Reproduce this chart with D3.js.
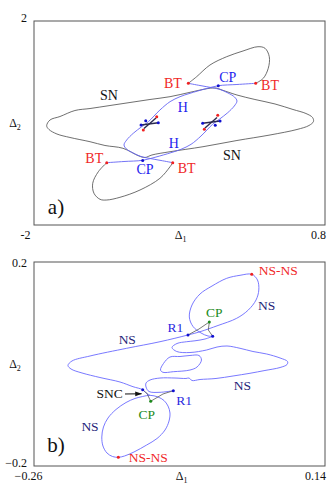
<!DOCTYPE html>
<html><head><meta charset="utf-8">
<script src="https://cdn.jsdelivr.net/npm/d3@7"></script>
<style>
body{margin:0;background:#fff}
svg{display:block}
text{font-family:"Liberation Serif","Times New Roman",serif}
</style>
</head><body>
<svg id="c" width="336" height="491"></svg>
<script>
// ---------- panel a) data ----------
const topXTicks = [-2, 0.8], topXTickLabels = ["-2", "0.8"];
const topYTicks = [2], topYTickLabels = ["2"];
const topSN = [[-1.878,-0.053],[-1.846,0.059],[-1.750,0.127],[-1.606,0.245],[-1.461,0.284],[-1.269,0.343],[-1.076,0.402],[-0.884,0.461],[-0.691,0.516],[-0.499,0.602],[-0.326,0.676],[-0.249,0.686],[-0.191,0.647],[-0.047,0.549],[0.126,0.461],[0.319,0.373],[0.492,0.265],[0.617,0.186],[0.680,0.108],[0.689,0.029],[0.646,-0.049],[0.531,-0.127],[0.271,-0.235],[-0.047,-0.343],[-0.374,-0.465],[-0.691,-0.563],[-0.865,-0.627],[-0.932,-0.676],[-0.990,-0.647],[-1.144,-0.496],[-1.317,-0.441],[-1.461,-0.367],[-1.654,-0.284],[-1.779,-0.216],[-1.856,-0.127]];
const topLobeUpper = [[-0.515,0.778],[-0.435,0.908],[-0.307,1.137],[-0.146,1.300],[0.011,1.412],[0.155,1.496],[0.223,1.465],[0.264,1.300],[0.254,1.073],[0.206,0.876],[0.133,0.778]];
const topLobeLower = [[-1.300,-0.778],[-1.381,-0.955],[-1.435,-1.182],[-1.423,-1.378],[-1.365,-1.496],[-1.300,-1.510],[-1.173,-1.457],[-0.980,-1.314],[-0.788,-1.084],[-0.691,-0.857],[-0.665,-0.778]];
const topH1 = [[0.133,0.778],[-0.047,0.755],[-0.227,0.731],[-0.355,0.667],[-0.499,0.582],[-0.595,0.516],[-0.691,0.418],[-0.788,0.255],[-0.900,0.025],[-0.964,-0.073],[-1.045,-0.202],[-1.108,-0.333],[-1.134,-0.431],[-1.110,-0.510],[-1.047,-0.588],[-0.970,-0.657],[-0.893,-0.692],[-0.778,-0.735],[-0.665,-0.778]];
const topH2 = [[-1.300,-0.778],[-1.134,-0.755],[-0.954,-0.731],[-0.826,-0.667],[-0.682,-0.582],[-0.586,-0.516],[-0.489,-0.418],[-0.393,-0.255],[-0.281,-0.025],[-0.217,0.073],[-0.136,0.202],[-0.073,0.333],[-0.047,0.431],[-0.071,0.510],[-0.133,0.588],[-0.210,0.657],[-0.287,0.692],[-0.403,0.735],[-0.515,0.778]];
const topCrossLines = [
  [[-0.970,-0.039],[-0.804,0.006]], [[-0.942,-0.108],[-0.826,0.098]],
  [[-0.210,0.039],[-0.377,-0.006]], [[-0.239,0.108],[-0.355,-0.098]]
];
const topBlueDots = [[-0.227,0.731],[-0.954,-0.735],[-0.970,-0.039],[-0.925,0.045],[-0.804,0.006],[-0.210,0.039],[-0.256,-0.045],[-0.377,-0.006]];
const topRedDots = [[-0.515,0.778],[0.133,0.778],[-1.300,-0.778],[-0.665,-0.778],[-0.819,0.124],[-0.948,-0.137],[-0.361,-0.124],[-0.232,0.151]];
const topLabels = [["SN",-1.278,0.549,"sn"],["SN",-0.095,-0.627,"sn"],["H",-0.569,0.300,"h"],["H",-0.655,-0.405,"h"],["CP",-0.136,0.890,"h"],["CP",-0.932,-0.908,"h"],["BT",-0.663,0.784,"bt"],["BT",0.271,0.745,"bt"],["BT",-1.420,-0.686,"bt"],["BT",-0.531,-0.888,"bt"]];

// ---------- panel b) data ----------
const botXTicks = [-0.26, 0.14], botXTickLabels = ["\u22120.26", "0.14"];
const botYTicks = [0.2, -0.2], botYTickLabels = ["0.2", "\u22120.2"];
const nsUpper = [[-0.1005,-0.0614],[-0.1067,-0.0559],[-0.1106,-0.0504],[-0.1239,-0.0445],[-0.1418,-0.0353],[-0.1693,-0.0265],[-0.1940,-0.0176],[-0.2091,-0.0098],[-0.2133,-0.0029],[-0.2078,0.0059],[-0.1830,0.0157],[-0.1326,0.0308],[-0.0868,0.0437],[-0.0483,0.0569],[-0.0318,0.0633],[-0.0071,0.0755],[0.0186,0.0896],[0.0346,0.1059],[0.0452,0.1255],[0.0490,0.1451],[0.0472,0.1647],[0.0393,0.1759],[0.0232,0.1739],[0.0049,0.1680],[-0.0153,0.1529],[-0.0318,0.1373],[-0.0428,0.1157],[-0.0465,0.0922],[-0.0414,0.0735],[-0.0304,0.0608],[-0.0208,0.0549],[-0.0144,0.0543]];
const nsWiggle = [[-0.0144,0.0543],[-0.0249,0.0490],[-0.0387,0.0455],[-0.0501,0.0437],[-0.0634,0.0402],[-0.0703,0.0324],[-0.0638,0.0245],[-0.0456,0.0225],[-0.0226,0.0275],[-0.0084,0.0333],[0.0053,0.0353],[0.0232,0.0308],[0.0410,0.0245],[0.0599,0.0196],[0.0782,0.0118],[0.0885,0.0049],[0.0878,-0.0010],[0.0782,-0.0069],[0.0575,-0.0127],[0.0369,-0.0182],[0.0136,-0.0235],[-0.0098,-0.0284],[-0.0318,-0.0304],[-0.0428,-0.0324],[-0.0469,-0.0275],[-0.0511,-0.0284],[-0.0662,-0.0275],[-0.0868,-0.0275],[-0.1005,-0.0314],[-0.1060,-0.0373],[-0.1060,-0.0451],[-0.1019,-0.0539],[-0.0868,-0.0555],[-0.0685,-0.0524]];
const nsDiamond = [[-0.0731,0.0137],[-0.0820,0.0010],[-0.0861,-0.0118],[-0.0827,-0.0163],[-0.0685,-0.0151],[-0.0456,-0.0118],[-0.0359,-0.0059],[-0.0298,0.0078],[-0.0332,0.0167],[-0.0456,0.0167],[-0.0593,0.0147]];
const nsLower = [[-0.1005,-0.0614],[-0.0896,-0.0647],[-0.0813,-0.0716],[-0.0758,-0.0824],[-0.0731,-0.0961],[-0.0744,-0.1118],[-0.0799,-0.1294],[-0.0909,-0.1461],[-0.1051,-0.1588],[-0.1225,-0.1725],[-0.1356,-0.1804],[-0.1441,-0.1829],[-0.1521,-0.1814],[-0.1597,-0.1745],[-0.1652,-0.1608],[-0.1668,-0.1431],[-0.1645,-0.1235],[-0.1583,-0.1059],[-0.1473,-0.0892],[-0.1335,-0.0755],[-0.1212,-0.0676],[-0.1106,-0.0637]];
const botGrayLines = [
  [[-0.0483,0.0569],[-0.0332,0.0686],[-0.0190,0.0824]],
  [[-0.0190,0.0824],[-0.0204,0.0667],[-0.0144,0.0543]],
  [[-0.1106,-0.0504],[-0.1047,-0.0578],[-0.0996,-0.0731]],
  [[-0.0996,-0.0731],[-0.0827,-0.0588],[-0.0685,-0.0524]]
];
const botBlueDots = [[-0.0483,0.0569],[-0.0144,0.0543],[-0.1106,-0.0504],[-0.0685,-0.0524]];
const botGreenDots = [[-0.0190,0.0824],[-0.0996,-0.0731]];
const botRedDots = [[0.0393,0.1759],[-0.1441,-0.1829]];
const botLabels = [["NS-NS",0.0758,0.1837,"red"],["NS",0.0599,0.1151,"ns"],["CP",-0.0122,0.1016,"cp"],["R1",-0.0655,0.0710,"r1"],["NS",-0.1318,0.0476,"ns"],["NS",0.0263,-0.0418,"ns"],["SNC",-0.1559,-0.0582,"blk"],["R1",-0.0538,-0.0712,"r1"],["CP",-0.1051,-0.0980,"cp"],["NS",-0.1830,-0.1216,"ns"],["NS-NS",-0.1029,-0.1837,"red"]];
const sncArrow = [[-0.1349,-0.0588],[-0.1122,-0.0584]];

// ---------- drawing ----------
const svg = d3.select("#c");
const SERIF = '"Liberation Serif","Times New Roman",serif';
const colors = {sn:"#111", h:"#2424ee", bt:"#f02828", red:"#f02828", ns:"#1e1e78", cp:"#228b22", r1:"#2a2ae0", blk:"#111"};

svg.append("defs").append("marker").attr("id","arr").attr("viewBox","0 0 10 10")
  .attr("refX",9).attr("refY",5).attr("markerWidth",7).attr("markerHeight",7)
  .attr("orient","auto").append("path").attr("d","M0,1.5L10,5L0,8.5Z").attr("fill","#111");

function panel(cfg){
  const x = d3.scaleLinear().domain(cfg.xd).range([34,325]);
  const y = d3.scaleLinear().domain(cfg.yd).range([cfg.bottom,cfg.top]);
  const g = svg.append("g");
  g.append("rect").attr("x",34).attr("y",cfg.top).attr("width",291).attr("height",cfg.bottom-cfg.top)
    .attr("fill","none").attr("stroke","#555").attr("stroke-width",1);
  const xa = g.append("g").attr("transform",`translate(0,${cfg.bottom})`)
    .call(d3.axisBottom(x).tickValues(cfg.xt).tickSize(0).tickFormat((d,i)=>cfg.xtl[i]));
  xa.select(".domain").remove();
  xa.selectAll("text").attr("font-family",SERIF).attr("font-size",12).attr("fill","#111")
    .attr("y",10).attr("dy","0.35em").attr("dx",(d,i)=>cfg.xdx[i]);
  const ya = g.append("g").attr("transform","translate(34,0)")
    .call(d3.axisLeft(y).tickValues(cfg.yt).tickSize(0).tickPadding(7).tickFormat((d,i)=>cfg.ytl[i]));
  ya.select(".domain").remove();
  ya.selectAll("text").attr("font-family",SERIF).attr("font-size",12).attr("fill","#111")
    .attr("dy",(d,i)=>cfg.ydy[i]);
  // axis titles
  const t1 = g.append("text").attr("x",x(cfg.xTitleAt)).attr("y",cfg.bottom+10).attr("dy","0.35em")
    .attr("text-anchor","middle").attr("font-size",12).attr("fill","#111");
  t1.append("tspan").text("\u0394");
  t1.append("tspan").attr("font-size",8).attr("dy",3).text("1");
  const t2 = g.append("text").attr("x",15).attr("y",y(cfg.yTitleAt)).attr("dy","0.35em")
    .attr("text-anchor","middle").attr("font-size",12).attr("fill","#111");
  t2.append("tspan").text("\u0394");
  t2.append("tspan").attr("font-size",8).attr("dy",3).text("2");
  g.append("text").attr("x",56).attr("y",cfg.top+cfg.letterDy).attr("dy","0.35em")
    .attr("text-anchor","middle").attr("font-size",21).attr("fill","#111").text(cfg.letter);
  return {g,x,y};
}

// ----- panel a -----
{
  const {g,x,y} = panel({xd:[-2,0.8], yd:[-2,2], top:21, bottom:225, xt:topXTicks, xtl:topXTickLabels,
    xdx:[-9,-7], yt:topYTicks, ytl:topYTickLabels, ydy:["-0.0em"], xTitleAt:-0.59, yTitleAt:0.0,
    letter:"a)", letterDy:186});
  const ln = d3.line().x(d=>x(d[0])).y(d=>y(d[1])).curve(d3.curveCatmullRom.alpha(0.5));
  const lnC = d3.line().x(d=>x(d[0])).y(d=>y(d[1])).curve(d3.curveCatmullRomClosed.alpha(0.5));
  const lnL = d3.line().x(d=>x(d[0])).y(d=>y(d[1]));
  g.append("path").attr("d",lnC(topSN)).attr("fill","none").attr("stroke","#4a4a4a").attr("stroke-width",0.8);
  [topLobeUpper, topLobeLower].forEach(p=>g.append("path").attr("d",ln(p)).attr("fill","none").attr("stroke","#4a4a4a").attr("stroke-width",0.8));
  [topH1, topH2].forEach(p=>g.append("path").attr("d",ln(p)).attr("fill","none").attr("stroke","#6464f4").attr("stroke-width",0.9));
  topCrossLines.forEach(p=>g.append("path").attr("d",lnL(p)).attr("fill","none").attr("stroke","#2a2a50").attr("stroke-width",1.4));
  g.selectAll(".bd").data(topBlueDots).join("circle").attr("cx",d=>x(d[0])).attr("cy",d=>y(d[1])).attr("r",1.5).attr("fill","#1010d0");
  g.selectAll(".rd").data(topRedDots).join("circle").attr("cx",d=>x(d[0])).attr("cy",d=>y(d[1])).attr("r",1.5).attr("fill","#f02020");
  g.selectAll(".lab").data(topLabels).join("text").attr("x",d=>x(d[1])).attr("y",d=>y(d[2])).attr("dy","0.34em")
    .attr("text-anchor","middle").attr("font-size",14).attr("fill",d=>colors[d[3]]).text(d=>d[0]);
}
// ----- panel b -----
{
  const {g,x,y} = panel({xd:[-0.26,0.14], yd:[-0.2,0.2], top:262, bottom:466, xt:botXTicks, xtl:botXTickLabels,
    xdx:[-6,-10], yt:botYTicks, ytl:botYTickLabels, ydy:["0.35em","0.0em"], xTitleAt:-0.057, yTitleAt:0.0,
    letter:"b)", letterDy:183});
  const ln = d3.line().x(d=>x(d[0])).y(d=>y(d[1])).curve(d3.curveCatmullRom.alpha(0.5));
  const lnC = d3.line().x(d=>x(d[0])).y(d=>y(d[1])).curve(d3.curveCatmullRomClosed.alpha(0.5));
  const lnL = d3.line().x(d=>x(d[0])).y(d=>y(d[1]));
  [nsUpper, nsWiggle].forEach(p=>g.append("path").attr("d",ln(p)).attr("fill","none").attr("stroke","#6a6aff").attr("stroke-width",0.9));
  [nsDiamond, nsLower].forEach(p=>g.append("path").attr("d",lnC(p)).attr("fill","none").attr("stroke","#6a6aff").attr("stroke-width",0.9));
  botGrayLines.forEach(p=>g.append("path").attr("d",lnL(p)).attr("fill","none").attr("stroke","#555").attr("stroke-width",0.8));
  g.selectAll(".bd").data(botBlueDots).join("circle").attr("cx",d=>x(d[0])).attr("cy",d=>y(d[1])).attr("r",1.5).attr("fill","#1010d0");
  g.selectAll(".gd").data(botGreenDots).join("circle").attr("cx",d=>x(d[0])).attr("cy",d=>y(d[1])).attr("r",1.5).attr("fill","#1a8a1a");
  g.selectAll(".rd").data(botRedDots).join("circle").attr("cx",d=>x(d[0])).attr("cy",d=>y(d[1])).attr("r",1.5).attr("fill","#f02020");
  g.append("path").attr("d",lnL(sncArrow)).attr("stroke","#111").attr("stroke-width",1).attr("marker-end","url(#arr)");
  g.selectAll(".lab").data(botLabels).join("text").attr("x",d=>x(d[1])).attr("y",d=>y(d[2])).attr("dy","0.34em")
    .attr("text-anchor","middle").attr("font-size",13.5).attr("fill",d=>colors[d[3]]).text(d=>d[0]);
}
</script>
</body></html>
